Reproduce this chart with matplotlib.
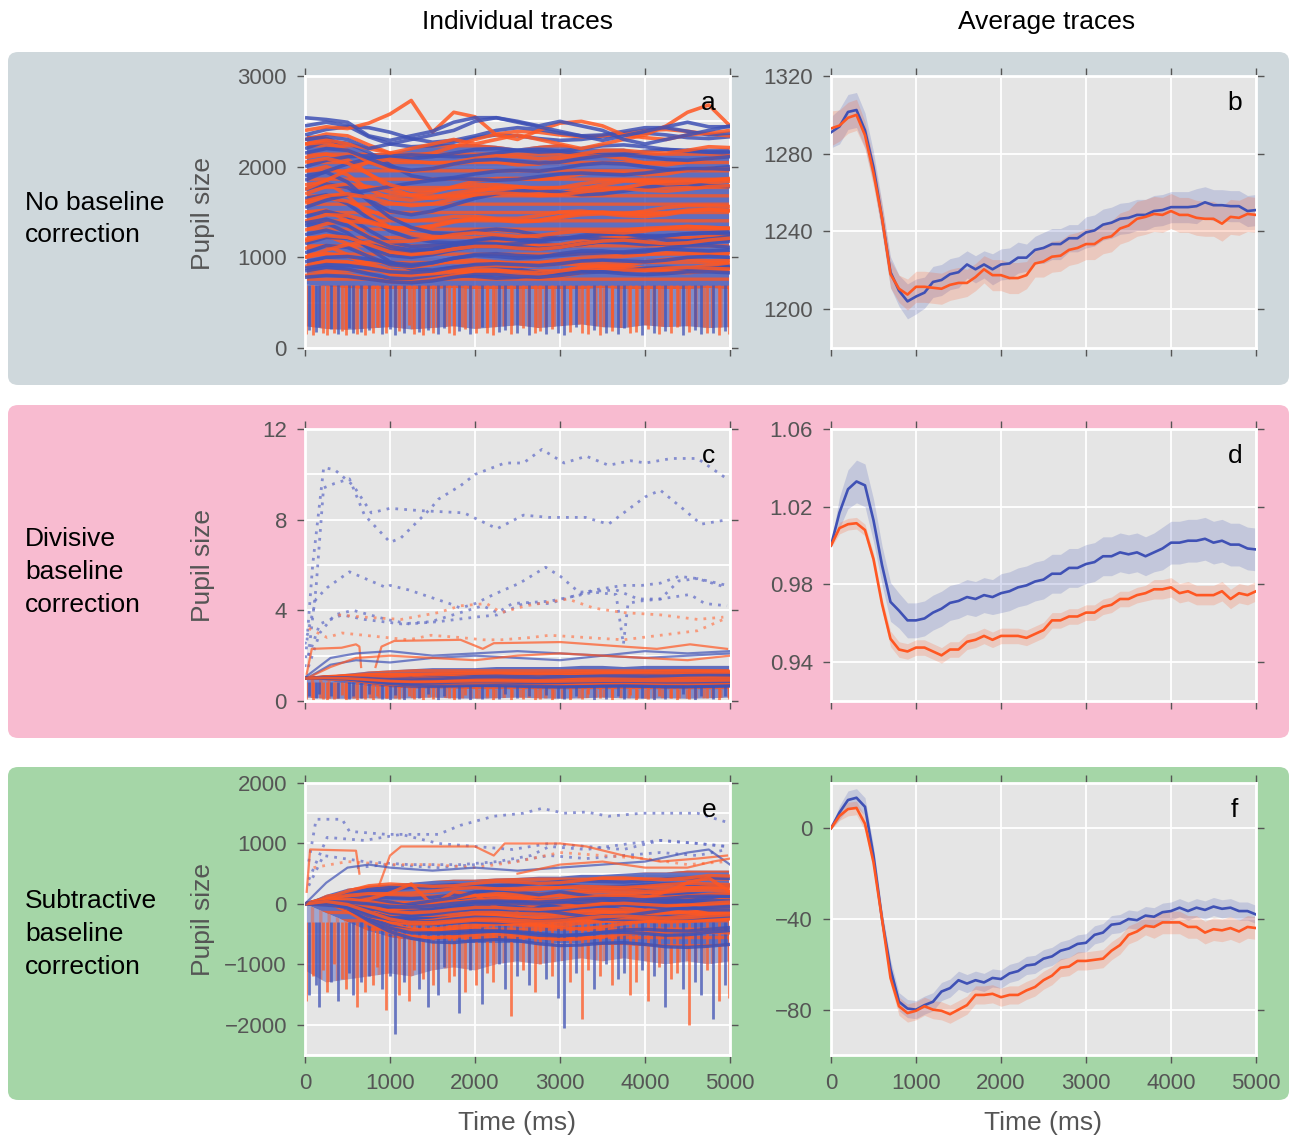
import numpy as np
import matplotlib
matplotlib.use('Agg')
import matplotlib.pyplot as plt
from matplotlib.patches import FancyBboxPatch
from matplotlib.ticker import MultipleLocator, FixedLocator, FormatStrFormatter

plt.rcParams['font.family'] = ['Liberation Sans', 'DejaVu Sans']
plt.rcParams['hatch.linewidth'] = 2.4

BLUE = '#3F51B5'
ORANGE = '#FF5722'
COL = {'B': BLUE, 'O': ORANGE}

# ---------------- data: individual traces ----------------
t_trace = [0, 250, 500, 750, 1000, 1250, 1500, 1750, 2000, 2250, 2500,
           2750, 3000, 3250, 3500, 3750, 4000, 4250, 4500, 4750, 5000]

trace_color = 'BOBOBOBOBOBOBOBOBOBOBOBOBOBO' + 'BOBOOOBBBO' + 'BOBOBO'
trace_baseline = [2450, 2300, 2200, 2100, 2000, 1950, 1850, 1800, 1750, 1700,
                  1650, 1600, 1550, 1500, 1450, 1400, 1350, 1300, 1250, 1200,
                  1150, 1100, 1050, 1000, 950, 900, 850, 800, 2350, 2250,
                  1900, 1750, 2400, 2250, 2540, 2300, 780, 1000,
                  2150, 1620, 1380, 1180, 880, 2050]
# change from baseline (= subtractive baseline correction) for each trace
trace_change = [
    [0, 40, 0, -120, -200, -230, -220, -180, -130, -100, -110, -140, -160, -150, -120, -90, -80, -100, -130, -140, -120],
    [0, 60, 40, -60, -150, -180, -150, -80, 0, 60, 90, 80, 50, 30, 40, 70, 100, 110, 90, 60, 40],
    [0, 80, 60, -40, -180, -300, -340, -320, -280, -250, -240, -250, -220, -180, -160, -170, -200, -230, -240, -220, -200],
    [0, 40, -20, -180, -330, -420, -450, -430, -380, -330, -320, -350, -390, -410, -380, -330, -290, -270, -260, -250, -240],
    [0, 70, 110, 120, 100, 90, 110, 150, 190, 200, 180, 160, 170, 200, 230, 240, 220, 190, 170, 160, 170],
    [0, 50, -40, -200, -300, -320, -290, -240, -210, -200, -220, -250, -240, -200, -150, -110, -100, -120, -140, -130, -110],
    [0, 100, 180, 240, 270, 280, 270, 260, 270, 300, 330, 340, 320, 290, 280, 290, 320, 340, 330, 310, 300],
    [0, 30, -120, -330, -470, -540, -560, -540, -510, -500, -520, -560, -590, -580, -540, -500, -480, -470, -460, -470, -480],
    [0, 60, 20, -120, -240, -280, -240, -170, -100, -50, -20, -10, -30, -60, -50, -20, 20, 50, 60, 40, 30],
    [0, 80, 110, 80, 20, -10, 20, 80, 140, 170, 170, 160, 180, 220, 240, 230, 210, 220, 260, 280, 270],
    [0, 40, -60, -220, -360, -440, -480, -490, -470, -450, -460, -490, -520, -510, -470, -430, -420, -440, -450, -420, -390],
    [0, 50, 20, -80, -170, -200, -180, -150, -150, -170, -170, -140, -100, -90, -110, -120, -90, -50, -30, -30, -40],
    [0, 80, 140, 190, 230, 270, 300, 320, 310, 300, 310, 340, 370, 380, 370, 360, 380, 410, 430, 430, 420],
    [0, 20, -100, -270, -400, -440, -420, -380, -340, -330, -350, -370, -360, -320, -290, -280, -290, -300, -290, -270, -250],
    [0, 60, 0, -150, -280, -330, -320, -300, -300, -310, -300, -270, -240, -230, -250, -260, -240, -210, -190, -180, -170],
    [0, 70, 60, 0, -70, -90, -60, -10, 20, 10, -10, 0, 40, 70, 80, 60, 50, 70, 110, 130, 120],
    [0, 30, -80, -250, -400, -480, -490, -460, -440, -450, -480, -520, -530, -510, -480, -470, -490, -520, -510, -470, -440],
    [0, 70, 100, 80, 30, 20, 50, 100, 130, 120, 100, 110, 150, 190, 200, 180, 170, 190, 220, 230, 210],
    [0, 50, -20, -140, -230, -250, -220, -170, -130, -130, -150, -160, -140, -100, -80, -90, -110, -100, -70, -50, -50],
    [0, 40, -50, -190, -290, -310, -280, -240, -230, -250, -270, -260, -230, -210, -200, -190, -170, -150, -150, -160, -150],
    [0, 70, 60, 0, -70, -90, -60, -10, 40, 70, 60, 40, 50, 90, 120, 110, 90, 90, 110, 120, 110],
    [0, 30, -70, -200, -290, -330, -330, -300, -270, -280, -310, -330, -310, -270, -240, -230, -240, -260, -270, -250, -220],
    [0, 80, 60, -40, -130, -150, -110, -60, -30, -40, -60, -50, -10, 20, 20, 0, 10, 50, 80, 80, 60],
    [0, 40, 10, -70, -140, -180, -190, -170, -140, -140, -160, -170, -150, -110, -90, -100, -120, -130, -120, -90, -60],
    [0, 50, 60, 30, -10, -30, -10, 40, 80, 90, 70, 60, 70, 90, 100, 110, 130, 140, 130, 120, 130],
    [0, 60, 50, -10, -70, -90, -70, -30, 0, 10, 0, 10, 30, 20, 0, 10, 50, 80, 80, 60, 70],
    [0, 40, 20, -30, -80, -90, -70, -50, -60, -80, -70, -40, -10, 0, -10, 0, 30, 40, 30, 30, 40],
    [0, 30, 10, -30, -70, -70, -40, 0, 30, 20, 0, 10, 50, 80, 80, 60, 60, 80, 90, 80, 70],
    [0, 60, 90, 80, 30, -40, -80, -60, -10, 50, 80, 60, 20, -10, 0, 40, 80, 80, 40, 0, 20],
    [0, 20, -70, -200, -280, -300, -270, -220, -190, -200, -230, -220, -180, -140, -130, -160, -210, -230, -200, -160, -130],
    [0, 40, -70, -280, -460, -570, -630, -640, -610, -590, -610, -660, -690, -680, -650, -640, -670, -710, -720, -700, -670],
    [0, 100, 210, 300, 330, 310, 290, 300, 340, 370, 360, 340, 350, 390, 430, 430, 410, 400, 430, 470, 460],
    [0, 40, 20, 80, 180, 330, -20, 200, 150, -50, -100, 0, 80, 100, 50, -50, -80, -100, -50, -30, 0],
    [0, 50, 0, -50, -100, -50, 0, 50, 0, 50, 100, 50, 0, -50, 0, 50, 100, 200, 350, 430, 200],
    [0, -20, -50, -200, -250, -200, -150, -50, 0, 0, -50, -100, -150, -200, -250, -200, -150, -100, -50, -100, -100],
    [0, 30, 0, -100, -50, 0, 50, 100, 200, 240, 200, 150, 200, 150, 100, 0, -50, 0, 50, 100, 150],
    [0, 20, 10, -20, -50, -60, -40, 0, 30, 30, 10, 0, 20, 50, 60, 40, 30, 40, 60, 60, 50],
    [0, 80, 140, 170, 170, 180, 210, 250, 270, 250, 230, 240, 270, 290, 280, 270, 290, 320, 340, 330, 320],
    [0, 50, 30, -60, -150, -190, -170, -120, -80, -70, -90, -110, -100, -60, -30, -20, -40, -70, -80, -60, -40],
    [0, 60, 80, 40, -20, -50, -30, 20, 70, 90, 80, 60, 70, 100, 130, 140, 120, 110, 130, 160, 170],
    [0, 40, -30, -160, -260, -300, -290, -250, -220, -230, -260, -280, -270, -230, -200, -190, -210, -240, -240, -220, -200],
    [0, 60, 40, -40, -120, -150, -130, -90, -60, -60, -80, -90, -70, -30, 0, 10, -10, -30, -20, 10, 30],
    [0, 40, 30, 0, -40, -50, -30, 10, 40, 50, 40, 30, 50, 80, 90, 80, 70, 90, 120, 130, 120],
    [0, 40, -10, -130, -250, -310, -310, -280, -250, -250, -270, -290, -280, -240, -210, -200, -220, -240, -230, -200, -180],
]

# dense-mass envelopes
a_fill_hi = [2350, 2330, 2250, 2150, 2150, 2200, 2250, 2250, 2250, 2230, 2200, 2230, 2250, 2200, 2200, 2200, 2150, 2150, 2200, 2200, 2200]
a_fill_lo = [700, 680, 660, 650, 650, 650, 650, 660, 650, 650, 650, 650, 650, 650, 660, 650, 650, 650, 650, 660, 650]
c_fill_hi = [1.0, 1.1, 1.2, 1.3, 1.35, 1.4, 1.45, 1.45, 1.45, 1.5, 1.5, 1.5, 1.5, 1.55, 1.55, 1.5, 1.55, 1.55, 1.55, 1.55, 1.55]
c_fill_lo = [1.0, 0.9, 0.75, 0.65, 0.6, 0.55, 0.55, 0.55, 0.5, 0.5, 0.5, 0.5, 0.5, 0.5, 0.5, 0.5, 0.5, 0.5, 0.5, 0.5, 0.5]
e_fill_hi = [0, 150, 250, 300, 320, 350, 380, 400, 400, 420, 430, 450, 450, 480, 480, 500, 520, 520, 550, 550, 550]
e_fill_lo = [0, -150, -300, -450, -550, -600, -600, -620, -650, -650, -650, -650, -650, -650, -680, -680, -700, -700, -700, -700, -700]

# lower edge of the dense blink-spike zone below the mass
a_zone_lo = [240, 210, 200, 215, 230, 205, 220, 240, 210, 230, 250, 220, 240, 260, 230, 220, 250, 230, 240, 220, 230]
c_zone_lo = [0.15, 0.10, 0.10, 0.12, 0.10, 0.12, 0.15, 0.12, 0.10, 0.12, 0.15, 0.12, 0.10, 0.12, 0.15, 0.12, 0.10, 0.12, 0.10, 0.12, 0.15]
e_zone_lo = [-1100, -1300, -1250, -1200, -1150, -1200, -1100, -1050, -1100, -1000, -950, -1000, -950, -900, -950, -900, -950, -1000, -950, -1000, -950]

# blink spikes
spike_t = [15, 45, 90, 130, 170, 215, 260, 300, 345, 390,
           430, 480, 520, 570, 610, 660, 700, 750, 800, 850,
           905, 950, 1000, 1060, 1110, 1170, 1220, 1280, 1340, 1390,
           1450, 1510, 1570, 1630, 1690, 1750, 1810, 1880, 1940, 2010,
           2080, 2140, 2210, 2280, 2350, 2420, 2490, 2560, 2630, 2700,
           2770, 2840, 2910, 2980, 3050, 3120, 3190, 3260, 3330, 3400,
           3470, 3540, 3610, 3680, 3750, 3820, 3890, 3960, 4030, 4100,
           4170, 4240, 4310, 4380, 4450, 4520, 4590, 4660, 4730, 4800,
           4870, 4940, 4985]
spike_color = 'OBOBBOOBOBOOBBOBOBOOBOBBOBOOBOBOBBOOBOBOBOOBBOBOBOOBOBBOBOOBOBOBBOOBOBOBOOBOBBOBOBO'
a_spike_bottom = [150, 200, 140, 180, 230, 160, 140, 210, 170, 150,
                  190, 140, 220, 160, 150, 180, 140, 200, 160, 230,
                  150, 170, 210, 140, 190, 160, 250, 150, 180, 140,
                  200, 170, 150, 220, 160, 140, 190, 210, 150, 170,
                  230, 160, 140, 180, 200, 150, 170, 220, 140, 160,
                  190, 150, 210, 170, 140, 180, 230, 160, 150, 200,
                  140, 170, 190, 150, 220, 160, 180, 140, 210, 170,
                  150, 190, 160, 230, 140, 180, 200, 150, 170, 160,
                  140, 190, 150]
a_spike_top = 690
e_spike_bottom = [-1600, -1500, -1200, -1350, -1700, -1100, -1450, -1300, -1000, -1600,
                  -1250, -1400, -1150, -1500, -1700, -1300, -1450, -1200, -1350, -1050,
                  -1400, -1750, -1200, -2150, -1500, -1300, -1600, -1100, -1400, -1250,
                  -1700, -1350, -1500, -1050, -1300, -1200, -1800, -1450, -1100, -1350,
                  -1650, -1150, -1300, -1000, -1400, -1850, -1200, -1100, -1350, -1450,
                  -1000, -1250, -1200, -1550, -2050, -1300, -1150, -1900, -1100, -1400,
                  -1200, -1000, -1350, -1250, -1150, -1500, -1300, -1100, -1600, -1200,
                  -1050, -1700, -1250, -1150, -1400, -2000, -1300, -1500, -1100, -1900,
                  -1600, -1350, -1550]
e_spike_top = -300
c_spike_bottom = [0.10, 0.20, 0.05, 0.15, 0.30, 0.10, 0.05, 0.20, 0.10, 0.15,
                  0.25, 0.05, 0.10, 0.20, 0.05, 0.15, 0.10, 0.30, 0.05, 0.20,
                  0.10, 0.15, 0.05, 0.25, 0.10, 0.05, 0.20, 0.10, 0.15, 0.05,
                  0.30, 0.10, 0.05, 0.20, 0.15, 0.05, 0.10, 0.25, 0.05, 0.15,
                  0.10, 0.20, 0.05, 0.10, 0.30, 0.05, 0.15, 0.10, 0.20, 0.05,
                  0.10, 0.25, 0.05, 0.15, 0.10, 0.05, 0.20, 0.10, 0.30, 0.05,
                  0.15, 0.10, 0.05, 0.20, 0.10, 0.25, 0.05, 0.15, 0.10, 0.05,
                  0.20, 0.10, 0.15, 0.05, 0.30, 0.10, 0.05, 0.20, 0.15, 0.10,
                  0.05, 0.20, 0.10]
c_spike_top = 0.85

# outlier traces in panel c (divisive)
c_dot_blue_t = [
    [0, 90, 220, 350, 570, 780, 1000, 1350, 1870, 2260, 2570, 2870, 3300, 3570, 3750, 4000, 4180, 4440, 4660, 4970],
    [40, 130, 218, 350, 523, 700, 1002, 1130, 1480, 1568, 1830, 2003, 2350, 2570, 2787, 3049, 3310, 3571, 3833, 4007, 4312, 4617, 4965],
    [0, 130, 260, 523, 958, 1002, 1220, 1699, 1829, 2003, 2221, 2526, 2831, 3005, 3223, 3659, 3920, 4181, 4530, 4704, 4965],
    [40, 174, 348, 566, 958, 1220, 1568, 2003, 2265, 2570, 2875, 3136, 3397, 3746, 3963, 4181, 4399, 4617, 4965],
    [44, 174, 436, 697, 1132, 1481, 1829, 2091, 2265, 2439, 2875, 3136, 3397, 3659, 3746, 3800, 3920, 4181, 4399, 4617, 4965],
]
c_dot_blue_v = [
    [1.5, 6.0, 10.3, 10.2, 9.5, 8.3, 8.5, 8.4, 8.3, 7.6, 8.2, 8.1, 8.1, 7.8, 8.3, 9.0, 9.3, 8.5, 7.8, 8.0],
    [2.0, 5.0, 9.4, 9.6, 9.8, 8.2, 7.0, 7.2, 8.5, 8.9, 9.5, 10.0, 10.5, 10.5, 11.1, 10.5, 10.8, 10.4, 10.6, 10.5, 10.7, 10.7, 9.8],
    [2.5, 4.5, 5.0, 5.7, 5.0, 5.1, 4.9, 4.3, 4.1, 4.3, 4.7, 5.2, 5.9, 5.5, 4.8, 4.9, 4.5, 4.5, 4.7, 4.3, 4.2],
    [1.5, 3.0, 3.8, 4.0, 3.6, 3.4, 3.5, 3.7, 3.8, 4.3, 4.3, 4.6, 4.9, 5.1, 5.1, 5.2, 5.5, 5.4, 5.0],
    [2.0, 3.4, 3.8, 3.6, 3.4, 3.5, 3.9, 4.2, 3.9, 4.3, 4.4, 4.6, 4.8, 4.7, 2.5, 4.3, 4.4, 4.5, 5.3, 5.4, 5.1],
]
c_dot_orange_t = [
    [392, 697, 1132, 1568, 1829, 2135, 2308, 2600, 3092, 3397, 3746, 4181, 4617, 4922],
    [44, 261, 436, 697, 958, 1220, 1481, 1829, 2091, 2308, 2657, 2875, 3310, 3746, 4181, 4617, 4922],
]
c_dot_orange_v = [
    [3.8, 3.7, 3.6, 3.9, 4.2, 4.3, 3.9, 4.2, 4.5, 4.1, 3.9, 3.8, 3.6, 3.7],
    [3.2, 2.8, 3.0, 2.9, 2.8, 2.7, 2.9, 2.8, 2.7, 2.7, 2.8, 2.9, 2.8, 2.7, 2.9, 3.1, 3.6],
]
c_solid_t = [
    [20, 80, 430, 600, 640, 660],
    [830, 900, 1050, 1830, 2091, 2221, 3005, 3746, 4140, 4530, 4965],
    [20, 300, 600, 1000, 1500, 2000, 2500, 3000, 3500, 4000, 4500, 5000],
    [20, 300, 600, 1000, 1500, 2000, 2500, 3000, 3500, 4000, 4500, 5000],
    [20, 300, 600, 1000, 1500, 2000, 2500, 3000, 3500, 4000, 4500, 5000],
]
c_solid_v = [
    [1.2, 2.3, 2.35, 2.5, 2.4, 1.5],
    [1.5, 2.4, 2.65, 2.7, 2.3, 2.55, 2.6, 2.4, 2.3, 2.5, 2.3],
    [1.1, 1.9, 2.1, 2.2, 2.0, 2.1, 2.2, 2.1, 2.0, 2.2, 2.1, 2.2],
    [1.0, 1.6, 1.8, 1.7, 1.9, 2.0, 1.9, 1.8, 2.0, 1.9, 2.0, 2.1],
    [1.0, 1.5, 1.9, 2.0, 1.9, 1.8, 2.0, 2.1, 2.0, 1.9, 1.8, 2.0],
]
c_solid_color = 'OOBBO'

# outlier traces in panel e (subtractive)
e_dot_blue_t = [
    [44, 131, 436, 523, 958, 1568, 1829, 2221, 2570, 2787, 3049, 3310, 3571, 3963, 4617, 4965],
    [44, 261, 697, 1132, 1568, 2003, 2439, 2875, 3310, 3746, 4181, 4617, 4965],
    [44, 218, 697, 1220, 1829, 2265, 2657, 2875, 3310, 3833, 4181, 4617, 4965],
    [610, 958, 1568, 2003, 2439, 2875, 3310, 3746, 4181, 4617, 4965],
]
e_dot_blue_v = [
    [700, 1400, 1400, 1200, 1150, 1150, 1300, 1450, 1500, 1580, 1500, 1520, 1450, 1500, 1500, 1350],
    [400, 1100, 1050, 1150, 1000, 950, 900, 1000, 950, 900, 1050, 1000, 950],
    [300, 800, 700, 650, 650, 700, 800, 950, 900, 1000, 1050, 1000, 950],
    [600, 650, 600, 650, 700, 800, 750, 800, 850, 800, 900],
]
e_dot_orange_t = [[100, 500, 1000, 1500, 2000, 2500, 3000, 3500, 4000, 4500, 4965]]
e_dot_orange_v = [[600, 700, 650, 650, 600, 700, 850, 800, 750, 650, 700]]
e_solid_t = [
    [20, 60, 600, 640],
    [870, 1000, 1130, 2000, 2221, 2350, 3005, 3310, 3746, 4181, 4617, 4965],
    [0, 250, 500, 750, 1000, 1500, 2000, 2500, 3000, 3500, 4000, 4500, 4750, 5000],
    [2500, 3000, 3500, 4000, 4500, 4800, 5000],
]
e_solid_v = [
    [200, 900, 880, 500],
    [300, 800, 950, 950, 800, 1000, 1000, 950, 800, 700, 750, 800],
    [0, 350, 600, 650, 600, 550, 600, 550, 600, 650, 700, 850, 900, 650],
    [500, 650, 700, 600, 600, 700, 750],
]
e_solid_color = 'OOBO'

# ---------------- data: average traces (100 ms steps) ----------------
t_mean = list(range(0, 5001, 100))
b_blue = [1291, 1294, 1301.5, 1302.5, 1292, 1273, 1247, 1219, 1209.5, 1204,
          1206.5, 1208.5, 1214, 1215, 1218, 1219, 1223, 1220.5, 1223, 1220.5,
          1223, 1223.5, 1226.5, 1226.5, 1230.5, 1231.5, 1233.5, 1233.5, 1236.5, 1236.5,
          1239.5, 1240.5, 1243.5, 1244.5, 1246.5, 1247, 1248.5, 1248.5, 1250.5, 1251,
          1252.5, 1252.5, 1252.5, 1253, 1255, 1253.5, 1253.5, 1253, 1253, 1250.5, 1251]
b_orange = [1293, 1294.5, 1298.5, 1300, 1289.5, 1270, 1247, 1218, 1210.5, 1207.5,
            1211.5, 1211.5, 1211, 1210.5, 1212.5, 1213.5, 1213.5, 1216.5, 1220.5, 1217.5,
            1217.5, 1216, 1216, 1217.5, 1223.5, 1224.5, 1227, 1227.5, 1230.5, 1231.5,
            1233.5, 1233.5, 1236.5, 1237.5, 1241.5, 1243, 1246.5, 1247.5, 1249, 1248.5,
            1250.5, 1248.5, 1248.5, 1247, 1246.5, 1246.5, 1244, 1247.5, 1247, 1249, 1248.5]
b_blue_hw = [8, 9, 9, 9, 9, 8, 8, 8, 8, 9, 9, 8, 8, 8, 8, 8, 7, 7, 7, 8,
             8, 8, 8, 7, 7, 8, 8, 8, 7, 7, 8, 8, 8, 8, 8, 8, 8, 8, 8, 8,
             8, 8, 8, 9, 8, 8, 8, 8, 8, 8, 8]
b_orange_hw = [9, 8, 8, 8, 7, 7, 7, 7, 7, 8, 8, 8, 8, 8, 8, 8, 7, 7, 7, 8,
               8, 8, 8, 7, 7, 8, 8, 8, 8, 8, 8, 8, 8, 8, 8, 8, 9, 9, 9, 9,
               9, 9, 9, 9, 9, 9, 9, 9, 9, 9, 9]

d_blue = [1.000, 1.017, 1.029, 1.033, 1.031, 1.013, 0.990, 0.971, 0.9665, 0.9615,
          0.9615, 0.9625, 0.9655, 0.9675, 0.9705, 0.9715, 0.9735, 0.9725, 0.9745, 0.9735,
          0.9755, 0.9765, 0.9785, 0.9795, 0.9815, 0.9825, 0.9855, 0.9855, 0.9885, 0.9885,
          0.9905, 0.9915, 0.9945, 0.9945, 0.9965, 0.9955, 0.9965, 0.9945, 0.9965, 0.9985,
          1.0015, 1.0015, 1.0025, 1.0025, 1.0035, 1.0015, 1.0025, 1.0005, 1.0005, 0.9985, 0.998]
d_orange = [1.000, 1.009, 1.011, 1.0115, 1.008, 0.993, 0.970, 0.952, 0.9465, 0.9455,
            0.9475, 0.9475, 0.9455, 0.9435, 0.9465, 0.9465, 0.9505, 0.9515, 0.9535, 0.9515,
            0.9535, 0.9535, 0.9535, 0.9525, 0.9545, 0.9565, 0.9615, 0.9615, 0.9635, 0.9635,
            0.9655, 0.9655, 0.9685, 0.9695, 0.9725, 0.9725, 0.9745, 0.9755, 0.9775, 0.9775,
            0.9785, 0.9755, 0.9765, 0.9745, 0.9745, 0.9745, 0.9765, 0.9725, 0.9755, 0.9745, 0.9765]
d_blue_hw = [0.001, 0.008, 0.010, 0.011, 0.011, 0.011, 0.010, 0.010, 0.009, 0.009,
             0.009, 0.009, 0.009, 0.009, 0.009, 0.009, 0.009, 0.009, 0.009, 0.009,
             0.010, 0.010, 0.010, 0.010, 0.010, 0.010, 0.010, 0.010, 0.010, 0.010,
             0.010, 0.010, 0.010, 0.010, 0.010, 0.010, 0.010, 0.010, 0.010, 0.011,
             0.011, 0.011, 0.011, 0.011, 0.011, 0.011, 0.011, 0.011, 0.011, 0.011, 0.011]
d_orange_hw = [0.001, 0.003, 0.003, 0.003, 0.003, 0.003, 0.003, 0.004, 0.004, 0.004,
               0.004, 0.004, 0.004, 0.004, 0.004, 0.004, 0.004, 0.004, 0.004, 0.004,
               0.004, 0.004, 0.004, 0.004, 0.004, 0.004, 0.004, 0.004, 0.004, 0.004,
               0.004, 0.004, 0.004, 0.004, 0.004, 0.004, 0.004, 0.004, 0.005, 0.005,
               0.005, 0.005, 0.005, 0.005, 0.005, 0.005, 0.005, 0.005, 0.005, 0.005, 0.005]

f_blue = [0, 7, 12.5, 13.5, 9.5, -12, -40, -62, -76.5, -79.5,
          -80, -78, -76.5, -72, -70.5, -67, -68.5, -67, -68, -66,
          -66.5, -64, -63, -60.5, -60, -57.5, -56.5, -54, -53, -51,
          -50.5, -47, -46, -42.5, -42, -40, -40.5, -38.5, -39, -37,
          -36.5, -35, -36.5, -35, -36, -34.5, -35.5, -35, -36.5, -36.5, -38]
f_orange = [0, 5.5, 8.5, 9, 2, -15, -40, -66, -78.5, -81.5,
            -80.5, -78.5, -80, -80.5, -82, -80, -78, -73.5, -73.5, -73,
            -74.5, -73.5, -73.5, -71.5, -70, -67, -65, -61.5, -61, -58.5,
            -58.5, -58, -57.5, -54, -51.5, -47, -45.5, -43, -43.5, -41.5,
            -41.5, -41.5, -43.5, -43.5, -46, -44.5, -45, -44, -45.5, -43.5, -44]
f_blue_hw = [0.5, 3, 4, 4, 4, 4, 4, 4, 4, 4, 4, 4, 4, 4, 4, 4, 4, 4, 4, 4,
             4, 4, 4, 4, 4, 4, 4, 4, 4, 4, 4, 4, 4, 4, 4, 4, 4, 4, 4, 4,
             4, 4, 4, 4, 4, 4, 4, 4, 4, 4, 4]
f_orange_hw = [0.5, 2, 3, 3, 3, 3, 3, 3, 4, 4, 4, 4, 4, 4, 4, 4, 4, 4, 4, 4,
               4, 4, 4, 4, 4, 4, 4, 4, 4, 4, 4, 4, 4, 4, 4, 4, 4, 4, 5, 5,
               5, 5, 5, 5, 5, 5, 5, 5, 5, 5, 5]

row_labels = ['No baseline\ncorrection', 'Divisive\nbaseline\ncorrection',
              'Subtractive\nbaseline\ncorrection']
col_titles = ['Individual traces', 'Average traces']
panel_letters = ['a', 'b', 'c', 'd', 'e', 'f']
row_colors = ['#CFD8DC', '#F8BBD0', '#A5D6A7']

# ---------------- figure ----------------
W, H = 1290, 1137
fig = plt.figure(figsize=(W / 100, H / 100), dpi=100)
fig.patch.set_facecolor('white')

box_tops = [52, 405, 767]
for top, col in zip(box_tops, row_colors):
    p = FancyBboxPatch((8 / W, 1 - (top + 333) / H), 1281 / W, 333 / H,
                       boxstyle='round,pad=0,rounding_size=0.008',
                       transform=fig.transFigure, facecolor=col,
                       edgecolor='none', zorder=-10)
    fig.patches.append(p)

lefts = [305 / W, 831 / W]
bottoms = [1 - 348 / H, 1 - 701 / H, 1 - 1055 / H]
aw, ah = 425 / W, 272 / H

GRAY = '#555555'


def make_ax(left, bottom, labelbottom):
    ax = fig.add_axes([left, bottom, aw, ah])
    ax.set_facecolor('#E5E5E5')
    for s in ax.spines.values():
        s.set_color('white')
        s.set_linewidth(2)
    ax.tick_params(which='major', direction='out', length=6, width=1,
                   color=GRAY, labelcolor=GRAY, labelsize=16, pad=7,
                   top=True, right=True, bottom=True, left=True,
                   labelbottom=labelbottom)
    ax.tick_params(which='minor', length=0, top=False, right=False,
                   bottom=False, left=False)
    ax.grid(True, which='both', color='white', linewidth=1.3)
    ax.set_axisbelow(True)
    ax.set_xlim(0, 5000)
    ax.xaxis.set_major_locator(MultipleLocator(1000))
    return ax


axes = {}
for r in range(3):
    for c in range(2):
        axes[(r, c)] = make_ax(lefts[c], bottoms[r], r == 2)

base = np.array(trace_baseline, dtype=float)[:, None]
chg = np.array(trace_change, dtype=float)
traces_a = base + chg            # raw pupil size
traces_c = (base + chg) / base   # divisive correction
traces_e = chg                   # subtractive correction


def draw_individual(ax, traces, fill_lo, fill_hi, zone_lo, spike_bottom, spike_top, lw, zone_alpha):
    # dense interleaved mass of traces
    ax.fill_between(t_trace, fill_lo, fill_hi, facecolor=BLUE, edgecolor=ORANGE,
                    hatch='--', lw=0, alpha=0.8, zorder=2)
    # dense comb of blink spikes under the mass
    ax.fill_between(t_trace, zone_lo, fill_lo, facecolor=BLUE, edgecolor=ORANGE,
                    hatch='||', lw=0, alpha=zone_alpha, zorder=2)
    for i, tt in enumerate(spike_t):
        ax.vlines(tt, spike_bottom[i], spike_top, colors=COL[spike_color[i]],
                  lw=2.0, alpha=0.75, zorder=2.5)
    for i, tr in enumerate(traces):
        ax.plot(t_trace, tr, color=COL[trace_color[i]], lw=lw, alpha=0.85,
                zorder=3, solid_capstyle='butt', solid_joinstyle='round')


# panel a
ax = axes[(0, 0)]
draw_individual(ax, traces_a, a_fill_lo, a_fill_hi, a_zone_lo, a_spike_bottom, a_spike_top, 2.6, 0.6)
ax.set_ylim(0, 3000)
ax.yaxis.set_major_locator(MultipleLocator(1000))
ax.yaxis.set_minor_locator(MultipleLocator(500))

# panel c
ax = axes[(1, 0)]
draw_individual(ax, traces_c, c_fill_lo, c_fill_hi, c_zone_lo, c_spike_bottom, c_spike_top, 2.0, 0.6)
for tt, vv in zip(c_dot_blue_t, c_dot_blue_v):
    ax.plot(tt, vv, color='#6570C8', lw=2, ls=(0, (1, 2.2)), alpha=0.75, zorder=4)
for tt, vv in zip(c_dot_orange_t, c_dot_orange_v):
    ax.plot(tt, vv, color='#FF7A50', lw=2, ls=(0, (1, 2.2)), alpha=0.7, zorder=4)
for i, (tt, vv) in enumerate(zip(c_solid_t, c_solid_v)):
    ax.plot(tt, vv, color=COL[c_solid_color[i]], lw=1.6, alpha=0.7, zorder=4)
ax.set_ylim(0, 12)
ax.yaxis.set_major_locator(MultipleLocator(4))
ax.yaxis.set_minor_locator(MultipleLocator(2))

# panel e
ax = axes[(2, 0)]
draw_individual(ax, traces_e, e_fill_lo, e_fill_hi, e_zone_lo, e_spike_bottom, e_spike_top, 2.4, 0.42)
for tt, vv in zip(e_dot_blue_t, e_dot_blue_v):
    ax.plot(tt, vv, color='#6570C8', lw=2, ls=(0, (1, 2.2)), alpha=0.75, zorder=4)
for tt, vv in zip(e_dot_orange_t, e_dot_orange_v):
    ax.plot(tt, vv, color='#FF7A50', lw=2, ls=(0, (1, 2.2)), alpha=0.7, zorder=4)
for i, (tt, vv) in enumerate(zip(e_solid_t, e_solid_v)):
    ax.plot(tt, vv, color=COL[e_solid_color[i]], lw=1.6, alpha=0.7, zorder=4)
ax.set_ylim(-2500, 2000)
ax.yaxis.set_major_locator(MultipleLocator(1000))
ax.yaxis.set_minor_locator(MultipleLocator(500))


def draw_mean(ax, blue, bhw, orange, ohw):
    t = np.array(t_mean)
    b = np.array(blue); bh = np.array(bhw)
    o = np.array(orange); oh = np.array(ohw)
    ax.fill_between(t, b - bh, b + bh, color=BLUE, alpha=0.2, lw=0, zorder=2)
    ax.fill_between(t, o - oh, o + oh, color=ORANGE, alpha=0.2, lw=0, zorder=2)
    ax.plot(t, b, color=BLUE, lw=1.9, zorder=3)
    ax.plot(t, o, color=ORANGE, lw=1.9, zorder=3)


ax = axes[(0, 1)]
draw_mean(ax, b_blue, b_blue_hw, b_orange, b_orange_hw)
ax.set_ylim(1180, 1320)
ax.yaxis.set_major_locator(FixedLocator([1200, 1240, 1280, 1320]))

ax = axes[(1, 1)]
draw_mean(ax, d_blue, d_blue_hw, d_orange, d_orange_hw)
ax.set_ylim(0.92, 1.06)
ax.yaxis.set_major_locator(FixedLocator([0.94, 0.98, 1.02, 1.06]))
ax.yaxis.set_major_formatter(FormatStrFormatter('%.2f'))

ax = axes[(2, 1)]
draw_mean(ax, f_blue, f_blue_hw, f_orange, f_orange_hw)
ax.set_ylim(-100, 20)
ax.yaxis.set_major_locator(FixedLocator([-80, -40, 0]))

# panel letters
k = 0
for r in range(3):
    for c in range(2):
        axes[(r, c)].text(0.95, 0.90, panel_letters[k], transform=axes[(r, c)].transAxes,
                          ha='center', va='center', fontsize=19, color='black', zorder=10)
        k += 1

# column titles
fig.text(517 / W, 1 - 22 / H, col_titles[0], ha='center', va='center', fontsize=19)
fig.text(1047 / W, 1 - 22 / H, col_titles[1], ha='center', va='center', fontsize=19)

# row labels and y labels
row_centers = [219, 572, 934]
ylab_centers = [213, 566, 920]
for r in range(3):
    fig.text(25 / W, 1 - row_centers[r] / H, row_labels[r], ha='left', va='center',
             fontsize=19, color='black', linespacing=1.45)
    fig.text(203 / W, 1 - ylab_centers[r] / H, 'Pupil size', ha='center', va='center',
             rotation=90, fontsize=19, color=GRAY)

fig.text(517 / W, 1 - 1123 / H, 'Time (ms)', ha='center', va='center', fontsize=19, color=GRAY)
fig.text(1043 / W, 1 - 1123 / H, 'Time (ms)', ha='center', va='center', fontsize=19, color=GRAY)

fig.savefig('out.png', dpi=100, facecolor='white')
